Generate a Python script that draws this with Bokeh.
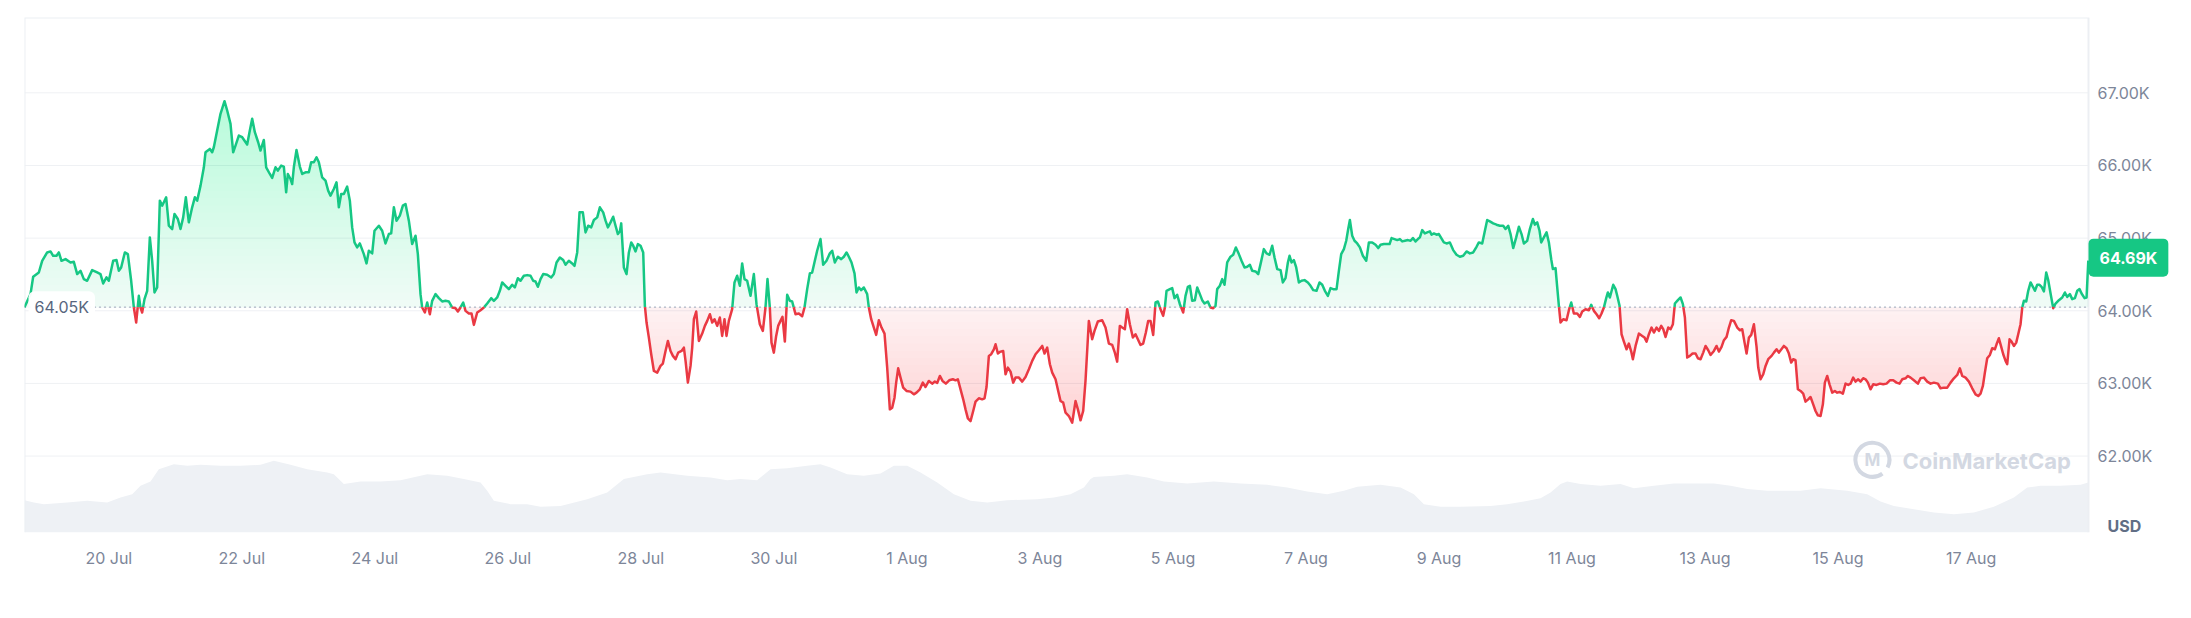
import numpy as np
from bokeh.plotting import figure
from bokeh.models import Range1d, FixedTicker, Label
from bokeh.core.properties import value
from bokeh.embed import file_html
from bokeh.resources import INLINE

# ---------------- data (hours since 20 Jul 00:00, price in USD) ----------------
hours = [
-30.42,-28.25,-27.29,-25.25,-24.04,-22.24,-21.04,-20.08,-18.87,-18.03,-17.07,-15.62,-13.82,-12.62,-11.41,-10.21,-9.01,-7.81,-6.00,-4.20,
-3.00,-2.03,-0.83,0.01,1.58,2.78,3.62,4.46,5.79,6.87,8.07,9.04,9.88,10.84,11.44,12.04,12.88,13.85,14.81,15.65,
16.49,17.45,18.42,19.26,19.86,20.70,21.66,22.87,23.71,24.91,25.87,26.84,27.80,28.88,30.08,31.05,31.89,33.10,34.30,34.90,
36.46,37.30,37.90,39.10,40.31,41.75,42.72,43.92,44.88,45.72,46.92,48.13,49.93,50.89,51.74,52.70,53.90,54.74,55.94,56.79,
58.11,58.95,60.15,60.99,62.20,63.16,64.00,64.61,65.57,66.17,66.77,67.73,68.94,69.78,70.98,72.18,73.02,73.99,74.95,75.79,
76.99,78.20,79.16,80.00,81.20,82.17,83.01,83.85,84.81,86.01,86.98,87.82,88.66,89.62,90.58,
92.03,92.99,93.84,95.04,95.88,97.45,98.65,99.85,101.05,101.90,102.86,103.82,105.02,106.11,107.07,108.27,109.47,110.68,111.52,112.48,
113.08,114.05,114.89,115.85,116.69,117.90,119.10,120.30,121.50,122.71,123.91,125.11,125.96,126.92,127.88,128.72,129.93,130.89,131.73,132.94,
134.14,135.34,136.54,137.99,138.95,140.15,141.11,141.96,143.16,144.36,145.56,146.53,147.61,148.57,149.77,150.98,152.18,153.14,153.98,154.83,
155.79,156.75,158.19,159.64,160.60,161.56,162.76,163.97,164.81,166.01,167.21,168.06,169.02,169.86,171.06,172.03,172.99,174.07,175.04,176.24,
177.20,178.40,179.25,180.09,181.05,182.01,182.86,183.70,184.42,184.90,185.86,186.82,187.67,188.51,189.23,190.07,190.91,191.88,192.84,193.44,
194.04,194.88,195.73,196.69,197.89,199.09,199.94,200.90,201.74,202.70,203.55,204.51,205.47,206.67,207.52,208.12,208.96,209.92,210.52,211.13,
211.97,212.93,214.13,215.09,215.94,216.90,217.74,218.58,219.54,220.50,
221.33,222.17,222.90,223.74,224.94,225.78,226.75,227.71,228.55,229.39,230.35,231.56,232.76,233.72,234.92,236.01,236.97,237.69,238.53,239.13,
239.98,240.82,241.54,242.38,243.10,243.95,244.79,245.75,246.59,247.80,249.00,250.20,251.04,252.01,252.97,253.81,254.77,255.61,256.82,257.78,
258.98,260.19,261.03,261.99,263.07,264.28,265.24,266.20,267.04,268.01,269.09,269.81,270.65,271.50,272.46,273.66,274.26,275.11,276.07,276.91,
277.87,278.83,279.92,280.88,281.84,282.68,283.52,284.12,284.84,285.69,286.65,287.85,289.29,290.50,291.46,292.66,293.75,294.71,295.91,297.11,
298.08,298.93,299.89,300.85,302.05,303.26,304.58,305.54,306.38,307.35,308.31,309.15,309.99,310.95,311.92,312.76,313.96,315.16,316.01,316.73,
317.57,318.41,319.38,319.98,320.82,321.78,322.74,323.59,324.43,325.39,326.35,327.20,328.40,329.60,330.80,332.01,333.21,334.41,335.62,336.82,
337.66,338.62,339.59,340.43,341.63,342.59,343.43,344.40,345.24,346.44,347.64,348.85,349.69,350.65,
351.60,352.44,353.65,354.85,355.69,356.90,358.46,359.66,360.87,362.07,363.03,363.87,364.83,365.68,366.64,367.48,368.44,369.53,370.49,371.33,
372.29,373.26,374.22,375.06,375.90,376.87,377.71,378.55,379.51,380.47,381.08,381.68,382.88,383.72,384.56,385.52,386.49,387.69,388.53,389.38,
390.10,390.94,391.90,392.75,393.71,394.55,395.39,396.59,397.56,398.52,399.36,399.96,400.92,401.77,402.61,403.57,404.77,405.74,406.70,407.78,
408.74,409.83,410.79,411.75,412.59,413.80,414.76,415.60,416.80,417.77,418.85,419.81,420.65,421.62,422.82,423.66,424.62,425.47,426.07,426.79,
427.63,428.47,429.44,430.40,431.48,432.68,433.65,434.61,435.81,436.89,437.86,438.82,439.90,440.86,441.83,443.03,443.87,444.71,445.68,446.52,
447.24,447.84,448.68,449.52,450.49,451.45,452.53,453.74,454.70,455.90,457.11,458.07,458.91,460.11,461.32,462.16,462.88,463.96,464.93,465.89,
466.73,467.69,468.77,469.74,470.58,471.54,472.38,473.10,473.94,474.91,475.75,476.71,477.31,478.15,479.12,479.96,
481.75,482.72,483.92,485.12,486.32,487.53,488.73,489.93,491.14,492.34,493.54,494.38,495.59,496.43,497.39,498.35,499.56,500.76,501.96,503.17,
504.01,504.97,505.81,506.78,507.86,508.82,509.78,510.63,511.83,512.79,513.87,514.59,515.44,516.28,516.88,517.84,518.81,519.65,520.49,521.09,
522.05,522.66,523.26,523.86,524.82,526.02,526.87,527.71,528.67,529.87,530.83,531.68,532.88,534.08,534.93,535.89,536.85,537.81,538.65,539.50,
540.34,540.94,541.66,542.87,543.71,544.31,545.15,545.87,546.72,547.68,548.52,549.36,549.96,550.93,552.13,553.33,554.17,554.90,555.74,556.70,
557.54,558.50,559.35,560.19,560.91,561.75,562.71,563.56,564.40,565.12,566.20,567.17,568.01,568.73,569.57,570.53,571.50,572.58,573.42,574.38,
575.34,576.19,577.15,577.99,579.20,580.16,581.00,581.96,582.81,583.77,584.61,585.45,586.41,587.62,588.58,589.42,590.26,590.99,591.83,592.67,
593.63,594.59,595.20,596.04,597.00,597.84,598.80,600.01,600.85,601.81,602.65,
604.44,605.41,606.25,607.09,607.81,608.65,609.50,610.46,611.42,612.26,613.22,614.07,615.03,615.87,616.71,617.68,618.52,619.24,620.08,620.92,
621.89,622.85,623.69,624.65,625.74,626.70,627.66,628.50,629.46,630.31,631.27,632.11,633.07,633.92,634.76,635.72,636.68,637.88,639.09,640.29,
641.49,642.70,643.90,645.10,646.19,647.15,648.35,649.19,650.16,651.36,652.80,653.77,654.97,656.17,657.38,658.58,660.02,660.98,662.19,663.39,
664.59,665.80,667.00,667.96,668.80,670.01,671.21,672.41,673.61,674.58,675.42,676.26,676.98,677.82,678.79,679.63,680.59,681.19,682.03,682.88,
683.60,684.44,685.04,685.88,686.60,687.45,688.29,689.01,689.85,690.46,691.06,691.90,692.62,693.47,694.31,695.03,695.87,696.71,697.44,698.28,
699.12,699.84,700.68,701.64,702.48,703.69,704.89,705.85,706.69,707.65,708.50,709.46,710.30,711.14,711.87,712.95,713.67,714.30,
]
price = [
64050,64229,64468,64527,64688,64803,64817,64757,64757,64803,64688,64711,64665,64674,64505,64550,64436,64413,64560,64527,
64505,64376,64459,64413,64688,64698,64550,64596,64803,64780,64413,64045,63838,64206,64045,63976,64160,64275,65010,64688,
64252,64321,65516,65447,65493,65562,65171,65125,65332,65263,65125,65286,65562,65217,65424,65562,65516,65723,65975,66182,
66228,66182,66251,66481,66711,66885,66757,66573,66182,66274,66412,66389,66288,66481,66642,66458,66320,66205,66352,65975,
65883,65828,65975,65929,65998,65985,65631,65883,65814,65745,65975,66214,65985,65883,65906,65906,66044,66044,66113,66044,
65837,65791,65654,65585,65677,65768,65424,65608,65608,65709,65516,65148,64941,64872,64927,
64780,64652,64826,64790,65102,65171,65102,64927,65056,65065,65424,65240,65309,65447,65470,65240,64918,65033,64780,64229,
64045,63976,64114,63953,64137,64229,64174,64128,64137,64128,64045,64036,63990,64045,64114,63999,63962,63962,63806,63976,
64008,64045,64100,64174,64137,64183,64275,64390,64344,64298,64358,64321,64449,64413,64482,64491,64482,64413,64403,64330,
64436,64505,64495,64459,64505,64665,64734,64698,64633,64688,64652,64619,64803,65355,65355,65079,65171,65148,65249,65286,
65424,65355,65240,65148,65217,65295,65171,65056,65093,65203,64596,64505,64803,64941,64895,64817,64918,64895,64803,64068,
63838,63631,63402,63172,63149,63241,63273,63447,63585,63447,63379,63333,63424,63447,63493,63310,63011,63241,63493,63884,
63990,63585,63686,63792,63861,63953,63838,63884,63792,63907,
63654,63884,63654,63861,64022,64390,64482,64344,64652,64436,64413,64206,64505,64091,63815,63723,64045,64436,64045,63562,
63424,63654,63792,63861,63916,63576,64220,64137,64128,63953,63962,63925,64045,64298,64514,64527,64688,64826,64987,64633,
64688,64790,64826,64665,64744,64711,64744,64803,64744,64665,64514,64252,64321,64284,64321,64229,64045,63884,63769,63668,
63870,63769,63686,63218,62643,62666,62804,63011,63208,63080,62942,62896,62887,62850,62873,62919,63011,62951,63034,62997,
63025,63006,63103,63034,62997,63043,63057,63043,63057,62919,62781,62643,62519,62482,62620,62749,62795,62781,62795,62951,
63379,63402,63470,63539,63411,63438,63447,63126,63218,63163,63011,63080,63080,63025,63089,63195,63310,63402,63457,63516,
63411,63493,63264,63149,63057,62896,62758,62735,62597,62551,62459,62758,62643,62492,
62620,63034,63861,63608,63723,63852,63870,63769,63549,63530,63424,63300,63792,63769,63746,64022,63815,63631,63677,63608,
63530,63549,63700,63861,63861,63668,64114,64128,64022,63930,64045,64275,64298,64312,64174,64220,64091,63976,64206,64330,
64344,64137,64146,64321,64229,64146,64100,64128,64045,64036,64068,64298,64344,64436,64358,64665,64744,64771,64872,64780,
64688,64596,64606,64633,64550,64541,64505,64642,64849,64790,64771,64895,64734,64573,64560,64390,64449,64665,64757,64665,
64698,64596,64390,64413,64422,64390,64344,64284,64275,64390,64358,64275,64206,64312,64298,64298,64550,64780,64849,64964,
65125,65249,65033,64964,64927,64872,64757,64688,64941,64941,64909,64863,64909,64918,64918,64918,65001,64987,64973,64987,
64955,64964,64973,64964,65001,64955,64987,65010,65111,65065,65079,65093,65047,65065,65047,65056,
64941,64927,64941,64835,64771,64744,64757,64817,64790,64803,64881,64941,64927,65079,65249,65231,65203,65185,65171,65171,
65125,65171,65056,64863,65010,65157,65056,64927,64964,65125,65263,65185,65217,65102,64941,65010,65079,64941,64711,64574,
64587,64321,64068,63838,63884,63870,64008,64114,63962,63962,63916,63990,64022,64008,64082,63999,63953,63898,63962,64045,
64174,64252,64183,64358,64298,64206,64068,63677,63576,63470,63549,63438,63333,63516,63686,63654,63631,63576,63677,63769,
63700,63769,63723,63792,63746,63640,63769,63746,63815,64100,64146,64183,64091,63907,63356,63379,63411,63411,63346,63333,
63424,63516,63457,63392,63447,63516,63438,63503,63595,63641,63769,63870,63861,63769,63732,63746,63562,63411,63631,63668,
63815,63503,63218,63057,63126,63241,63333,63379,63424,63470,63424,
63516,63484,63411,63287,63333,63319,62919,62896,62859,62749,62781,62813,62712,62620,62560,62551,62712,63011,63103,62988,
62873,62896,62873,62882,62859,62997,62979,62997,63080,63025,63057,63025,63071,63057,63011,62919,62988,62979,62997,62988,
62997,63043,63043,63011,62997,63057,63071,63103,63080,63043,62997,63071,63080,63025,62997,63011,62997,62933,62942,62942,
63011,63071,63117,63208,63103,63080,63025,62933,62850,62827,62859,62965,63149,63346,63392,63484,63470,63539,63622,63503,
63402,63310,63264,63608,63576,63516,63562,63677,63815,64045,64137,64128,64275,64390,64330,64275,64358,64358,64330,64266,
64527,64422,64238,64036,64100,64146,64183,64252,64192,64229,64160,64174,64275,64298,64238,64174,64183,64690,
]
vol_hours = [
-30.42,-27.05,-23.44,-15.02,-7.80,-0.59,4.23,8.44,11.45,15.05,18.06,23.48,28.29,33.10,40.31,47.54,54.75,59.56,65.57,71.59,
78.80,81.20,84.81,90.83,98.05,105.27,114.89,122.11,128.12,134.14,136.54,138.95,144.97,150.98,155.79,163.01,172.63,179.85,185.86,194.28,
199.10,208.72,217.14,223.16,227.95,233.96,238.78,244.79,252.01,256.82,260.43,266.44,272.46,278.47,283.29,288.10,292.91,298.93,304.94,310.96,
316.97,324.19,334.98,341.03,347.04,351.85,354.25,355.45,362.67,367.48,374.70,380.72,389.14,398.76,408.38,418.01,425.23,432.44,439.66,445.68,
450.49,458.91,466.13,470.94,474.55,480.56,487.77,498.60,504.61,510.63,516.64,520.25,523.86,526.26,531.08,538.29,545.51,550.32,557.54,564.76,
571.98,579.20,585.21,591.23,598.44,606.86,610.46,617.68,627.30,634.52,639.33,644.14,651.36,658.58,665.80,673.01,680.23,687.45,692.26,697.07,
704.29,711.51,714.30,
]
volume_b = [
18.8,17.5,16.5,17.5,18.5,17.5,20.4,22.3,27.2,29.7,36.9,39.8,38.9,39.4,38.9,38.9,39.4,41.8,39.4,36.9,
35.0,34.0,28.2,29.7,29.7,30.5,34.0,33.0,31.1,29.1,24.3,18.5,16.5,16.5,15.0,15.5,19.4,23.3,31.1,34.0,
35.0,33.0,32.1,30.5,31.1,30.5,36.9,37.5,38.9,39.8,37.9,34.0,33.0,34.4,38.9,38.9,35.0,29.1,22.3,18.5,
17.5,18.8,19.4,20.4,22.3,26.2,31.1,32.4,33.0,34.0,32.1,29.7,28.6,29.7,28.6,27.8,26.2,23.9,22.3,24.3,
26.6,27.8,26.2,22.3,16.5,15.0,15.0,15.5,16.5,18.1,20.0,23.3,28.2,29.7,28.2,27.2,28.2,25.8,27.2,28.6,
28.6,28.6,27.2,25.3,24.3,24.3,24.3,25.8,24.3,22.3,18.1,15.5,13.6,11.7,10.7,11.7,15.0,20.4,26.2,27.2,
27.2,27.8,29.1,
]
base_price = 64050
base_label = "64.05K"
last_label = "64.69K"
y_ticks = [62000, 63000, 64000, 65000, 66000, 67000]
y_tick_labels = ["62.00K", "63.00K", "64.00K", "65.00K", "66.00K", "67.00K"]
x_ticks = [0, 48, 96, 144, 192, 240, 288, 336, 384, 432, 480, 528, 576, 624, 672]
x_tick_labels = ["20 Jul", "22 Jul", "24 Jul", "26 Jul", "28 Jul", "30 Jul", "1 Aug", "3 Aug",
                 "5 Aug", "7 Aug", "9 Aug", "11 Aug", "13 Aug", "15 Aug", "17 Aug"]

GREEN = "#16c784"
RED = "#ea3943"
GREY_TXT = "#7d8699"
WM = "#d3d8e2"
BORDER = "#eceff3"
FONT = "Inter"

# ---------------- layout ----------------
W, H = 2190, 616
LEFT, RIGHT, TOP, BOTTOM = 24, 8, 17, 84
CHART_W = 2064                 # pixel width of the price area (rest of the frame holds the price scale)
Y0, Y1 = 60948, 68037
X0, DATA_END = hours[0], 714.37
px_per_h = CHART_W / (DATA_END - X0)
X_RIGHT = DATA_END + (W - LEFT - RIGHT - CHART_W) / px_per_h

p = figure(width=W, height=H, output_backend="svg", toolbar_location=None,
           x_range=Range1d(X0, X_RIGHT), y_range=Range1d(Y0, Y1),
           y_axis_location=None, min_border_left=LEFT, min_border_right=RIGHT,
           min_border_top=TOP, min_border_bottom=BOTTOM)
p.extra_y_ranges = {"vol": Range1d(0, 300)}
p.background_fill_color = "white"
p.border_fill_color = "white"
p.outline_line_color = None
p.xgrid.visible = False
p.ygrid.visible = False

# volume
p.varea(x=vol_hours, y1=0, y2=volume_b, y_range_name="vol", fill_color="#eef1f5")

# horizontal grid lines, only across the price area
p.segment(x0=X0, x1=DATA_END, y0=y_ticks, y1=y_ticks, line_color="#eff1f4", line_width=1)
# chart border (left, top, right)
p.line(x=[X0, X0, DATA_END, DATA_END], y=[Y0, Y1, Y1, Y0], line_color=BORDER, line_width=2)

# split the line at baseline crossings
h = np.array(hours, float)
pr = np.array(price, float)
xs, ys = [h[0]], [pr[0]]
for i in range(1, len(h)):
    a, b = pr[i - 1] - base_price, pr[i] - base_price
    if a * b < 0:
        t = a / (a - b)
        xs.append(h[i - 1] + t * (h[i] - h[i - 1]))
        ys.append(base_price)
    xs.append(h[i]); ys.append(pr[i])
xr = np.array(xs); yr = np.array(ys)

# gradient fills (stacked translucent layers)
p.varea(x=xr, y1=base_price, y2=np.maximum(yr, base_price), fill_color=GREEN, fill_alpha=0.07)
for lvl in np.arange(base_price + 100, Y1, 100):
    p.varea(x=xr, y1=lvl, y2=np.maximum(yr, lvl), fill_color=GREEN, fill_alpha=0.0076)
p.varea(x=xr, y1=np.minimum(yr, base_price), y2=base_price, fill_color=RED, fill_alpha=0.07)
for lvl in np.arange(base_price - 100, Y0, -100):
    p.varea(x=xr, y1=np.minimum(yr, lvl), y2=lvl, fill_color=RED, fill_alpha=0.01)

# dotted baseline across the price area
p.segment(x0=[X0], x1=[DATA_END], y0=[base_price], y1=[base_price],
          line_color="#a9b2c2", line_width=1.4, line_dash="1 4", line_cap="round")

up = np.where(yr >= base_price, yr, np.nan)
dn = np.where(yr <= base_price, yr, np.nan)
p.line(xr, up, line_color=GREEN, line_width=2.5, line_join="round")
p.line(xr, dn, line_color=RED, line_width=2.5, line_join="round")

# x axis
p.xaxis.ticker = FixedTicker(ticks=x_ticks)
p.xaxis.major_label_overrides = {t: l for t, l in zip(x_ticks, x_tick_labels)}
p.xaxis.axis_line_color = None
p.xaxis.major_tick_line_color = None
p.xaxis.minor_tick_line_color = None
p.xaxis.major_tick_out = 0
p.xaxis.major_label_standoff = 15
p.xaxis.major_label_text_font = FONT
p.xaxis.major_label_text_font_size = "16px"
p.xaxis.major_label_text_color = GREY_TXT

# price scale on the right of the price area
p.text(x=[DATA_END] * len(y_ticks), y=y_ticks, text=y_tick_labels, x_offset=9,
       text_baseline="middle", text_font=value(FONT), text_font_size="16px",
       text_color=GREY_TXT)

# labels
p.add_layout(Label(x=X0, y=base_price, text=base_label, x_offset=4, text_baseline="middle",
                   text_font=FONT, text_font_size="16px", text_color="#58667e",
                   background_fill_color="white", background_fill_alpha=0.95,
                   border_radius=6, padding=6))
p.add_layout(Label(x=DATA_END, y=price[-1], text=last_label, x_offset=0, y_offset=3,
                   text_baseline="middle",
                   text_font=FONT, text_font_size="16px", text_font_style="bold",
                   text_color="white", background_fill_color=GREEN,
                   border_radius=5, padding=(11, 9)))
p.add_layout(Label(x=DATA_END, y=Y0, text="USD", x_offset=19, y_offset=7, text_baseline="middle",
                   text_font=FONT, text_font_size="16px", text_font_style="bold",
                   text_color="#616e85"))

# watermark
p.arc(x=[636.4], y=[61949], radius=17, radius_units="screen", start_angle=-0.15 * np.pi,
      end_angle=1.7 * np.pi, line_color=WM, line_width=4)
p.add_layout(Label(x=636.4, y=61949, text="M", text_align="center", text_baseline="middle",
                   text_font=FONT, text_font_size="17px", text_font_style="bold", text_color=WM))
p.add_layout(Label(x=647.25, y=61935, text="CoinMarketCap", text_baseline="middle",
                   text_font=FONT, text_font_size="22px", text_font_style="bold", text_color=WM))

open("out.html", "w").write(file_html(p, INLINE))
